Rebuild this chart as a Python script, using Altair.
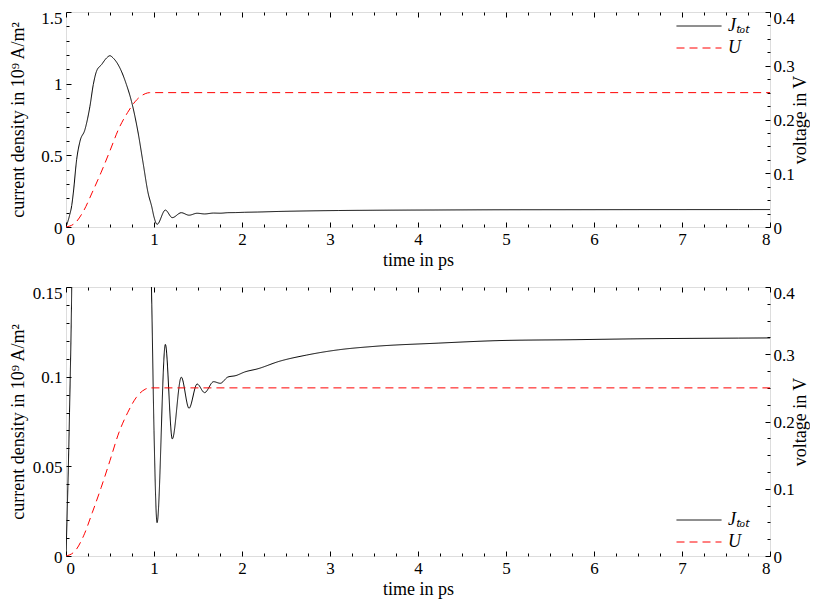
import altair as alt
import pandas as pd

# ---- data ----
t_J = [0.0, 0.04, 0.065, 0.083, 0.121, 0.159, 0.215, 0.272, 0.31, 0.347, 0.404, 0.461,
       0.499, 0.536, 0.612, 0.687, 0.744, 0.82, 0.876, 0.933, 0.975, 1.0, 1.035, 1.129,
       1.208, 1.31, 1.398, 1.49, 1.575, 1.677, 1.753, 1.84, 1.93, 2.03, 2.18, 2.42, 2.73,
       3.1, 3.48, 4.23, 4.99, 5.74, 6.49, 7.64, 8.0]
J_tot = [0.0, 0.08, 0.15, 0.237, 0.47, 0.598, 0.679, 0.842, 0.993, 1.087, 1.133, 1.179,
         1.195, 1.179, 1.11, 0.993, 0.877, 0.656, 0.447, 0.237, 0.14, 0.07, 0.0186, 0.118,
         0.0653, 0.0997, 0.0824, 0.0959, 0.0911, 0.0972, 0.0963, 0.0998, 0.1006, 0.1026,
         0.1044, 0.1085, 0.112, 0.115, 0.1168, 0.1187, 0.1202, 0.1206, 0.1211, 0.1215, 0.1216]
t_U = [0.0, 0.1, 0.2, 0.3, 0.4, 0.5, 0.6, 0.7, 0.8, 0.9, 0.95, 8.0]
U_volt = [0.0, 0.007, 0.03, 0.065, 0.102, 0.142, 0.183, 0.213, 0.236, 0.248, 0.25, 0.25]

series_names = ["Jₜₒₜ", "U"]
x_major = [0, 1, 2, 3, 4, 5, 6, 7, 8]
x_minor = [0.25, 0.5, 0.75, 1.25, 1.5, 1.75, 2.25, 2.5, 2.75, 3.25, 3.5, 3.75, 4.25, 4.5,
           4.75, 5.25, 5.5, 5.75, 6.25, 6.5, 6.75, 7.25, 7.5, 7.75]
u_major = [0, 0.1, 0.2, 0.3, 0.4]
u_minor = [0.025, 0.05, 0.075, 0.125, 0.15, 0.175, 0.225, 0.25, 0.275, 0.325, 0.35, 0.375]
top_j_major = [0, 0.5, 1, 1.5]
top_j_minor = [0.1, 0.2, 0.3, 0.4, 0.6, 0.7, 0.8, 0.9, 1.1, 1.2, 1.3, 1.4]
bot_j_major = [0, 0.05, 0.1, 0.15]
bot_j_minor = [0.01, 0.02, 0.03, 0.04, 0.06, 0.07, 0.08, 0.09, 0.11, 0.12, 0.13, 0.14]

FONT = "Liberation Serif, Times New Roman, serif"
LFS = 17
TFS = 18
W = 704

dfJ = pd.DataFrame({"t": t_J, "v": J_tot, "s": series_names[0]})
dfU = pd.DataFrame({"t": t_U, "v": U_volt, "s": series_names[1]})
dfDummy = pd.DataFrame({"t": [0.0, 8.0], "v": [0.0, 0.0]})


def tick_axis(orient, values, size):
    return alt.Axis(orient=orient, values=values, labels=False, domain=False, grid=False,
                    ticks=True, tickSize=size, tickColor="black", tickWidth=1,
                    offset=-size, title=None)


def panel(h, jdom, jmaj, jmin, jtop, leg_y):
    xs = alt.Scale(domain=[0, 8], nice=False, zero=False)
    js = alt.Scale(domain=jdom, nice=False, zero=False)
    us = alt.Scale(domain=[0, 0.4], nice=False, zero=False)
    leg = alt.Legend(title=None, orient="none", legendX=624, legendY=leg_y,
                     symbolType="M-4.5,0H4.5", symbolSize=100, symbolStrokeWidth=1,
                     labelFont=FONT, labelFontSize=TFS, labelFontStyle="italic",
                     labelColor="black", padding=0, rowPadding=4, labelOffset=20)
    color = alt.Color("s:N", scale=alt.Scale(domain=series_names, range=["black", "red"]), legend=leg)
    dash = alt.StrokeDash("s:N", scale=alt.Scale(domain=series_names, range=[[1, 0], [8, 5]]), legend=leg)

    a = alt.Chart(dfJ).mark_line(strokeWidth=1, interpolate="monotone", clip=True).encode(
        x=alt.X("t:Q", scale=xs, axis=alt.Axis(orient="bottom", values=x_major, format=".2~f",
                                                ticks=False, tickSize=0, domain=False, grid=False,
                                                labelPadding=4, labelFont=FONT, labelFontSize=LFS,
                                                labelColor="black", title="time in ps",
                                                titleFont=FONT, titleFontSize=TFS,
                                                titleFontWeight="normal", titleColor="black",
                                                titlePadding=4)),
        y=alt.Y("v:Q", scale=js, axis=alt.Axis(orient="left", values=jmaj, format=".2~f",
                                                ticks=False, tickSize=0, domain=False, grid=False,
                                                labelPadding=4, labelFont=FONT, labelFontSize=LFS,
                                                labelColor="black",
                                                labelOffset={"condition": {"test": f"datum.value == {jtop}", "value": 6}, "value": 1},
                                                title="current density in 10⁹ A/m²",
                                                titleFont=FONT, titleFontSize=TFS,
                                                titleFontWeight="normal", titleColor="black",
                                                titleX=-48, titleBaseline="middle")),
        color=color, strokeDash=dash)

    b = alt.Chart(dfU).mark_line(strokeWidth=1, clip=True, interpolate="monotone").encode(
        x=alt.X("t:Q", scale=xs, axis=alt.Axis(orient="top", labels=False, ticks=False,
                                                domain=False, grid=False, title=None)),
        y=alt.Y("v:Q", scale=us, axis=alt.Axis(orient="right", values=u_major, format=".2~f",
                                                ticks=False, tickSize=0, domain=False, grid=False,
                                                labelPadding=3, labelFont=FONT, labelFontSize=LFS,
                                                labelColor="black",
                                                labelOffset={"condition": {"test": "datum.value == 0.4", "value": 6}, "value": 1},
                                                title="voltage in V",
                                                titleFont=FONT, titleFontSize=TFS,
                                                titleFontWeight="normal", titleColor="black",
                                                titleAngle=270, titleX=30, titleBaseline="middle")),
        color=color, strokeDash=dash)

    def inv(xax, yax, ysc):
        return alt.Chart(dfDummy).mark_point(opacity=0, clip=True).encode(
            x=alt.X("t:Q", scale=xs, axis=xax),
            y=alt.Y("v:Q", scale=ysc, axis=yax))

    c = inv(tick_axis("bottom", x_major, 5), tick_axis("left", jmaj, 5), js)
    d = inv(tick_axis("bottom", x_minor, 3), tick_axis("left", jmin, 3), js)
    e = inv(tick_axis("top", x_major, 5), tick_axis("right", u_major, 5), us)
    f = inv(tick_axis("top", x_minor, 3), tick_axis("right", u_minor, 3), us)

    return alt.layer(a, b, c, d, e, f).resolve_scale(x="independent", y="independent").properties(
        width=W, height=h)


top = panel(215, [0, 1.5], top_j_major, top_j_minor, 1.5, 5)
bottom = panel(269, [0, 0.15], bot_j_major, bot_j_minor, 0.15, 224)

chart = alt.vconcat(top, bottom, spacing=13).resolve_scale(
    color="independent", strokeDash="independent").resolve_legend(
    color="independent", strokeDash="independent").properties(
    padding={"left": 0, "top": 0, "right": 0, "bottom": 0}).configure_view(
    stroke="black", strokeWidth=1).configure(background="white")

chart.save("out.html", embed_options={"renderer": "svg", "actions": False})
